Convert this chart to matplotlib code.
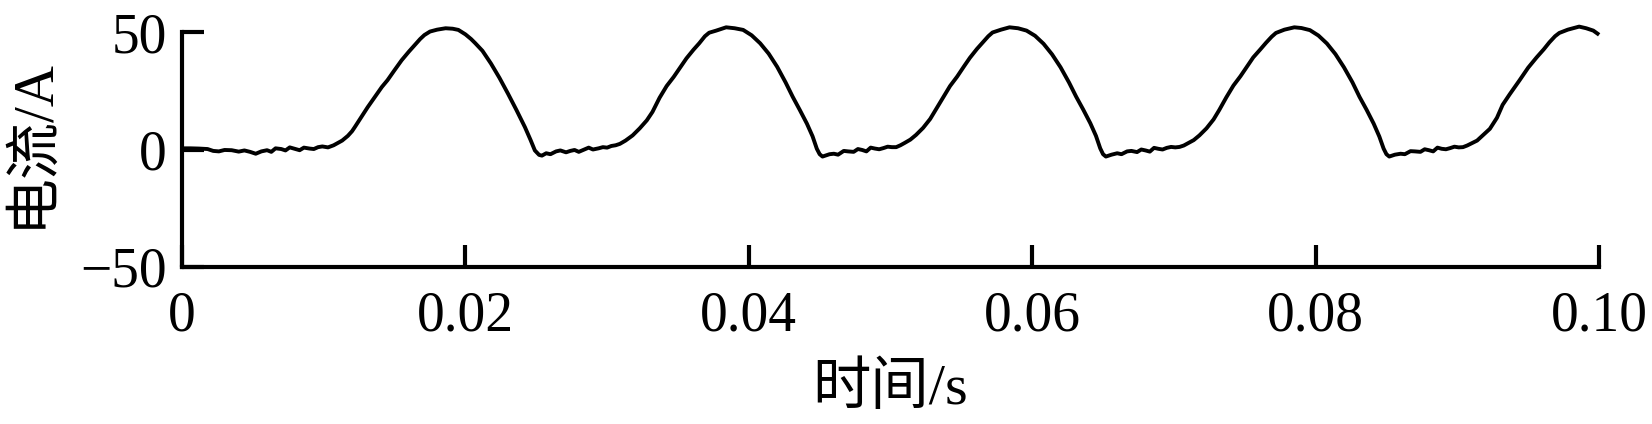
import matplotlib
matplotlib.use("Agg")
import matplotlib.pyplot as plt
import numpy as np

# current waveform, one list pair per cycle
t_cyc1 = [0.0000, 0.0006, 0.0012, 0.0018, 0.0022, 0.0026, 0.0030, 0.0035, 0.0040, 0.0044,
          0.0048, 0.0052, 0.0056, 0.0060, 0.0063, 0.0066, 0.0070, 0.0073, 0.0076, 0.0080,
          0.0083, 0.0086, 0.0090, 0.0093, 0.0096, 0.0099, 0.0103, 0.0107, 0.0110, 0.0113,
          0.0117, 0.0120, 0.0122, 0.0125, 0.0128, 0.0131, 0.0134, 0.0137, 0.0141, 0.0145,
          0.0150, 0.0155, 0.0160, 0.0165, 0.0168, 0.0171, 0.0175, 0.0180, 0.0186, 0.0191,
          0.0195, 0.0200, 0.0204, 0.0207, 0.0212, 0.0218, 0.0224, 0.0230, 0.0236, 0.0242,
          0.0246, 0.0249, 0.0252, 0.0254]
i_cyc1 = [0.5, 0.5, 0.4, 0.2, -0.6, -0.8, -0.2, -0.3, -0.9, -0.4,
          -1.0, -1.8, -0.8, -0.3, -1.0, 0.5, 0.2, -0.4, 0.9, 0.2,
          -0.3, 0.8, 0.4, 0.2, 1.0, 1.3, 0.9, 1.8, 2.8, 3.8,
          5.8, 7.8, 9.6, 12.4, 15.2, 18.0, 20.6, 23.2, 26.6, 29.5,
          33.8, 38.0, 41.6, 45.0, 47.0, 48.7, 50.2, 51.0, 51.6, 51.4,
          50.9, 49.0, 47.0, 45.2, 42.0, 36.6, 30.5, 23.8, 16.8, 9.5,
          4.0, -0.4, -2.3, -2.6]

t_cyc2 = [0.0257, 0.0260, 0.0264, 0.0267, 0.0271, 0.0274, 0.0277, 0.0280, 0.0284, 0.0287,
          0.0290, 0.0294, 0.0297, 0.0300, 0.0303, 0.0306, 0.0309, 0.0313, 0.0318, 0.0323,
          0.0328, 0.0332, 0.0337, 0.0342, 0.0347, 0.0352, 0.0356, 0.0361, 0.0365, 0.0369,
          0.0372, 0.0377, 0.0384, 0.0390, 0.0396, 0.0402, 0.0408, 0.0414, 0.0420, 0.0426,
          0.0431, 0.0436, 0.0441, 0.0445, 0.0448, 0.0450, 0.0452]
i_cyc2 = [-1.6, -2.0, -0.8, -0.4, -1.2, -0.6, -0.2, -1.0, 0.0, 0.8,
          0.0, 0.5, 1.0, 0.8, 1.5, 1.8, 2.4, 3.8, 6.0, 9.0,
          12.4, 16.0, 22.0, 27.0, 30.9, 35.3, 38.8, 42.5, 45.2, 48.2,
          49.7, 50.6, 52.0, 51.6, 50.9, 48.6, 45.2, 40.8, 35.2, 28.5,
          22.4, 16.8, 11.0, 5.6, 0.3, -2.0, -3.0]

t_cyc3 = [0.0457, 0.0460, 0.0463, 0.0467, 0.0470, 0.0474, 0.0477, 0.0480, 0.0483, 0.0486,
          0.0489, 0.0492, 0.0495, 0.0498, 0.0501, 0.0504, 0.0507, 0.0510, 0.0514, 0.0518,
          0.0523, 0.0528, 0.0532, 0.0537, 0.0542, 0.0547, 0.0552, 0.0556, 0.0561, 0.0565,
          0.0569, 0.0572, 0.0578, 0.0584, 0.0590, 0.0596, 0.0602, 0.0608, 0.0614, 0.0620,
          0.0626, 0.0631, 0.0636, 0.0641, 0.0645, 0.0648, 0.0650, 0.0652]
i_cyc3 = [-2.0, -1.8, -2.2, -0.6, -0.8, -1.0, 0.2, -0.2, -0.8, 0.8,
          0.4, 0.1, 0.6, 1.2, 1.0, 1.0, 1.8, 2.8, 4.2, 6.2,
          9.2, 13.0, 17.0, 22.0, 27.0, 31.0, 35.5, 39.0, 42.8, 45.5,
          48.2, 49.8, 51.0, 52.0, 51.6, 50.6, 48.4, 45.0, 40.5, 35.0,
          28.5, 22.5, 17.0, 11.2, 5.8, 0.5, -2.0, -3.0]

t_cyc4 = [0.0656, 0.0660, 0.0663, 0.0667, 0.0670, 0.0674, 0.0677, 0.0680, 0.0683, 0.0686,
          0.0689, 0.0692, 0.0695, 0.0698, 0.0701, 0.0704, 0.0707, 0.0710, 0.0714, 0.0718,
          0.0723, 0.0728, 0.0732, 0.0737, 0.0742, 0.0747, 0.0752, 0.0756, 0.0761, 0.0765,
          0.0769, 0.0772, 0.0778, 0.0785, 0.0790, 0.0796, 0.0802, 0.0808, 0.0814, 0.0820,
          0.0826, 0.0831, 0.0836, 0.0841, 0.0845, 0.0848, 0.0850, 0.0852]
i_cyc4 = [-2.2, -1.6, -2.0, -0.8, -0.6, -1.1, 0.0, -0.4, -0.9, 0.7,
          0.3, 0.0, 0.7, 1.1, 0.9, 1.1, 1.7, 2.7, 4.0, 6.0,
          9.0, 12.8, 16.8, 22.2, 27.2, 31.2, 35.6, 39.2, 42.6, 45.4,
          48.0, 49.6, 51.0, 52.0, 51.7, 50.8, 48.5, 45.1, 40.6, 35.0,
          28.6, 22.4, 16.9, 11.0, 5.5, 0.4, -2.0, -3.0]

t_cyc5 = [0.0856, 0.0860, 0.0863, 0.0867, 0.0870, 0.0874, 0.0877, 0.0880, 0.0883, 0.0886,
          0.0889, 0.0892, 0.0895, 0.0898, 0.0901, 0.0904, 0.0907, 0.0910, 0.0914, 0.0918,
          0.0923, 0.0928, 0.0932, 0.0937, 0.0944, 0.0950, 0.0956, 0.0961, 0.0965, 0.0969,
          0.0972, 0.0978, 0.0986, 0.0991, 0.0996, 0.0999]
i_cyc5 = [-2.2, -1.8, -2.0, -0.7, -0.8, -1.0, 0.1, -0.3, -0.8, 0.8,
          0.3, 0.1, 0.6, 1.2, 0.9, 1.0, 1.7, 2.6, 3.8, 6.0,
          8.8, 13.5, 19.0, 23.5, 29.5, 34.8, 39.2, 42.6, 45.6, 48.2,
          49.6, 51.0, 52.3, 51.6, 50.6, 49.3]

x_ticks = [0, 0.02, 0.04, 0.06, 0.08, 0.10]
x_ticklabels = ["0", "0.02", "0.04", "0.06", "0.08", "0.10"]
y_ticks = [-50, 0, 50]
y_ticklabels = ["\u221250", "0", "50"]

time_s = np.array(t_cyc1 + t_cyc2 + t_cyc3 + t_cyc4 + t_cyc5)
current_a = np.array(i_cyc1 + i_cyc2 + i_cyc3 + i_cyc4 + i_cyc5)

FONTS = ["Liberation Serif", "Noto Sans CJK SC", "DejaVu Sans"]
plt.rcParams["font.family"] = FONTS
plt.rcParams["axes.unicode_minus"] = True

fig = plt.figure(figsize=(16.52, 4.24), dpi=100)
ax = fig.add_axes([0.1102, 0.3703, 0.8577, 0.5542])

# peaks go a little above the 50 A limit, as in the original figure
ax.plot(time_s, current_a, color="black", linewidth=2.8, clip_on=False,
        solid_joinstyle="round")

ax.set_xlim(0, 0.10)
ax.set_ylim(-50, 50)
ax.set_xticks(x_ticks)
ax.set_xticklabels(x_ticklabels)
ax.set_yticks(y_ticks)
ax.set_yticklabels(y_ticklabels)

for side in ["top", "right"]:
    ax.spines[side].set_visible(False)
for side in ["left", "bottom"]:
    ax.spines[side].set_linewidth(3.0)
    ax.spines[side].set_capstyle("projecting")

ax.tick_params(axis="both", direction="in", length=16, width=3.0,
               labelsize=40, colors="black")
ax.tick_params(axis="x", pad=17)
ax.tick_params(axis="y", pad=11)

ax.set_xlabel("时间/s", fontsize=42)
ax.set_ylabel("电流/A", fontsize=41)
ax.xaxis.set_label_coords(0.5, -0.405)
ax.yaxis.set_label_coords(-0.087, 0.53)

fig.savefig("out.png", dpi=100)
